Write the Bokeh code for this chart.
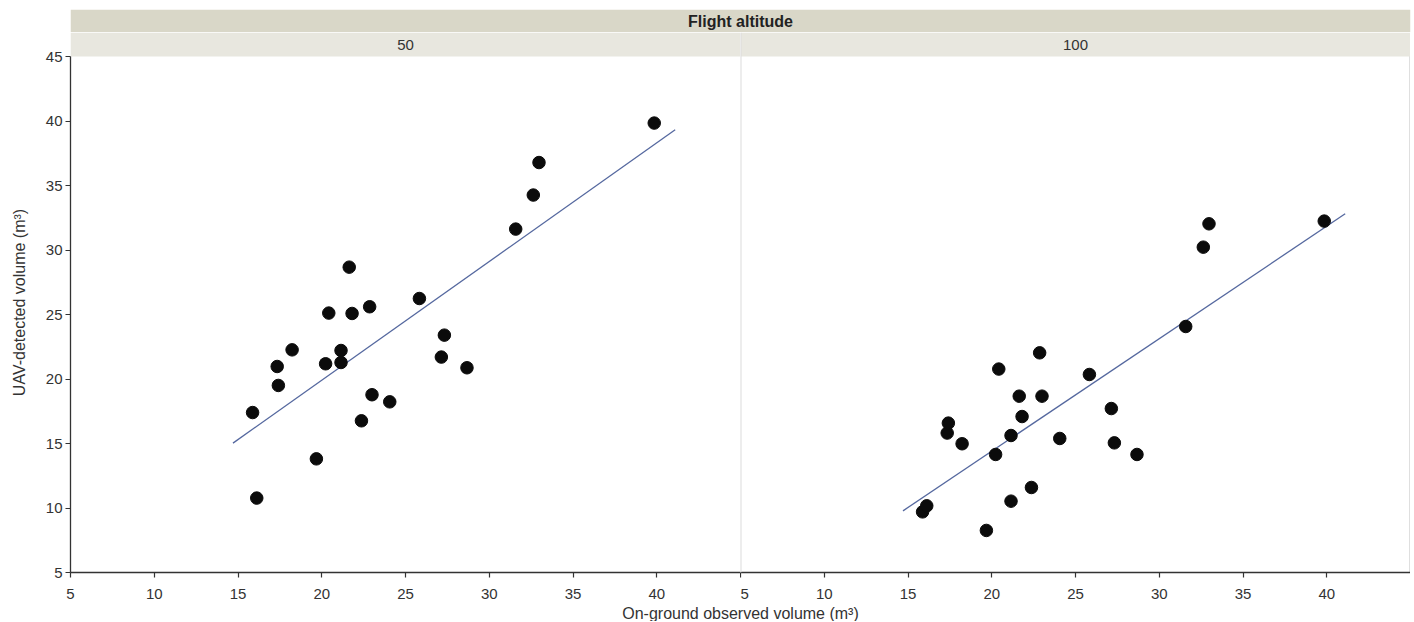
from bokeh.plotting import figure
from bokeh.models import FixedTicker, Span, LinearAxis, ColumnDataSource, Range1d
from bokeh.layouts import column, row
from bokeh.embed import file_html
from bokeh.resources import INLINE
from bokeh.core.properties import value

# ---------------- data ----------------
facet_title = "Flight altitude"
panels = ["50", "100"]
ground = [39.85, 32.97, 32.63, 31.58, 21.64, 25.83, 22.86, 20.42, 21.81, 27.32,
          18.23, 21.15, 17.34, 20.23, 21.15, 27.14, 28.67, 17.41, 15.87, 23.00,
          24.06, 22.37, 19.68, 16.12]
uav_50 = [39.84, 36.78, 34.26, 31.62, 28.67, 26.24, 25.60, 25.11, 25.08, 23.40,
          22.26, 22.21, 20.97, 21.18, 21.28, 21.70, 20.87, 19.50, 17.40, 18.78,
          18.23, 16.76, 13.81, 10.77]
uav_100 = [32.24, 32.03, 30.22, 24.07, 18.67, 20.35, 22.03, 20.77, 17.09, 15.05,
           14.98, 15.62, 15.81, 14.15, 10.53, 17.71, 14.15, 16.58, 9.70, 18.67,
           15.39, 11.59, 8.26, 10.17]
fit_x = [14.7, 41.1]
fit_50 = [15.03, 39.32]
fit_100 = [9.78, 32.81]
x_ticks = [5, 10, 15, 20, 25, 30, 35, 40]
y_ticks = [5, 10, 15, 20, 25, 30, 35, 40, 45]
x_label = "On-ground observed volume (m³)"
y_label = "UAV-detected volume (m³)"

# ---------------- style / layout ----------------
FONT = "Liberation Sans"
TXT = "#333333"
AX = "#333333"
BAND_TOP = "#d9d7c8"
BAND_LOW = "#e8e7df"
SEP = "#dcdcdc"
LINE = "#55689f"
DOT = "#0b0b0b"
LEFT_B = 70
RIGHT_B = 2
FW = 670
PLOT_H = 516          # pixel height of the 5..45 data area
BAND_H = 24           # pixel height of the panel strip (50 / 100)
Y0, Y1 = 5, 45
Y_TOP = Y1 + BAND_H * (Y1 - Y0) / PLOT_H

# ---------------- header (spanning strip) ----------------
hdr = figure(frame_width=2 * FW, frame_height=23, x_range=Range1d(0, len(panels)), y_range=Range1d(0, 1),
             output_backend="svg", toolbar_location=None, x_axis_location=None, y_axis_location=None,
             min_border_left=LEFT_B, min_border_right=RIGHT_B, min_border_top=9, min_border_bottom=0,
             outline_line_color=None)
hdr.xgrid.visible = False
hdr.ygrid.visible = False
hdr.quad(left=[0], right=[len(panels)], bottom=[0], top=[1], fill_color=BAND_TOP, line_color=None)
hdr.text(x=[len(panels) / 2], y=[0.5], text=[facet_title], text_align="center", text_baseline="middle",
         text_font=value(FONT), text_font_size="16px", text_font_style="bold", text_color="#222222")


def style_axis(ax):
    ax.axis_line_color = AX
    ax.axis_line_width = 1.3
    ax.major_tick_line_color = AX
    ax.major_tick_line_width = 1.2
    ax.major_tick_out = 5
    ax.major_tick_in = 0
    ax.minor_tick_line_color = None
    ax.major_label_text_font = FONT
    ax.major_label_text_font_size = "15px"
    ax.major_label_text_color = TXT
    ax.axis_label_text_font = FONT
    ax.axis_label_text_font_size = "16px"
    ax.axis_label_text_font_style = "normal"
    ax.axis_label_text_color = TXT


def make_panel(name, yvals, fit_y, first):
    p = figure(frame_width=FW, frame_height=PLOT_H + BAND_H, x_range=Range1d(5, 45),
               y_range=Range1d(Y0, Y_TOP),
               output_backend="svg", toolbar_location=None,
               y_axis_location="left" if first else None,
               min_border_left=LEFT_B if first else 0, min_border_right=0,
               min_border_top=0, min_border_bottom=0, outline_line_color=None)
    p.xgrid.visible = False
    p.ygrid.visible = False
    p.xaxis.ticker = FixedTicker(ticks=x_ticks)
    style_axis(p.xaxis[0])
    p.xaxis.major_label_standoff = 11
    # panel strip
    p.quad(left=[5], right=[45], bottom=[Y1], top=[Y_TOP], fill_color=BAND_LOW, line_color=None)
    p.text(x=[25], y=[(Y1 + Y_TOP) / 2], text=[name], text_align="center", text_baseline="middle",
           text_font=value(FONT), text_font_size="15px", text_color=TXT)
    if first:
        p.yaxis.ticker = FixedTicker(ticks=y_ticks)
        p.yaxis.bounds = (Y0, Y1)
        style_axis(p.yaxis[0])
        p.yaxis.major_label_standoff = 3
        p.yaxis.axis_label = y_label
        p.yaxis.axis_label_standoff = 15
    else:
        p.add_layout(Span(location=5, dimension="height", line_color=SEP, line_width=2))
        rax = LinearAxis(ticker=FixedTicker(ticks=[]), bounds=(Y0, Y1), axis_line_color=AX,
                         axis_line_width=1.3, major_tick_line_color=None, minor_tick_line_color=None)
        p.add_layout(rax, "right")
    p.line(fit_x, fit_y, line_color=LINE, line_width=1.3)
    src = ColumnDataSource(dict(x=ground, y=yvals))
    p.scatter("x", "y", source=src, size=12.5, fill_color=DOT, line_color=DOT)
    return p


p1 = make_panel(panels[0], uav_50, fit_50, True)
p2 = make_panel(panels[1], uav_100, fit_100, False)

# ---------------- footer (shared x-axis title) ----------------
ftr = figure(frame_width=2 * FW, frame_height=20, x_range=Range1d(0, 1), y_range=Range1d(0, 1),
             output_backend="svg", toolbar_location=None, x_axis_location=None, y_axis_location=None,
             min_border_left=LEFT_B, min_border_right=RIGHT_B, min_border_top=0, min_border_bottom=0,
             outline_line_color=None)
ftr.xgrid.visible = False
ftr.ygrid.visible = False
ftr.text(x=[0.5], y=[0.4], text=[x_label], text_align="center", text_baseline="middle",
         text_font=value(FONT), text_font_size="16px", text_color=TXT)

layout = column(hdr, row(p1, p2), ftr)
open("out.html", "w").write(file_html(layout, INLINE))
